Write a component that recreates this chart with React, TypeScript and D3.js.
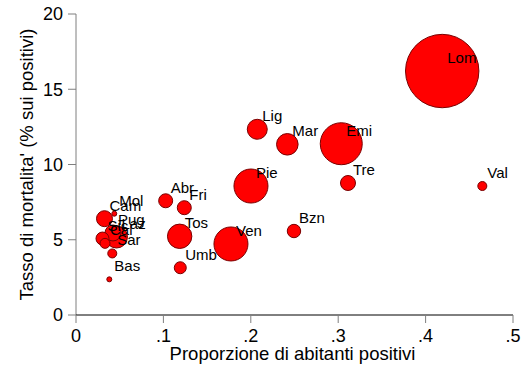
import React from 'react';
import * as d3 from 'd3';

// regioni (etichette come nel grafico)
const regioni = ['Lom', 'Emi', 'Pie', 'Ven', 'Tos', 'Mar', 'Lig', 'Laz', 'Cam', 'Pug', 'Tre', 'Abr', 'Fri', 'Bzn', 'Sic', 'Umb', 'Cal', 'Sar', 'Val', 'Mol', 'Bas'];
// proporzione di abitanti positivi
const proporzione = [0.419, 0.3035, 0.2002, 0.1773, 0.1186, 0.2418, 0.2074, 0.0463, 0.0326, 0.0423, 0.3112, 0.1026, 0.1239, 0.2494, 0.0303, 0.1193, 0.0332, 0.0415, 0.4649, 0.0438, 0.0381];
// tasso di mortalita' (% sui positivi)
const mortalita = [16.21, 11.38, 8.57, 4.72, 5.23, 11.34, 12.34, 5.18, 6.4, 5.45, 8.77, 7.59, 7.13, 5.58, 5.08, 3.14, 4.76, 4.09, 8.57, 6.73, 2.37];
// numero di positivi (migliaia), usato per la dimensione dei cerchi
const positivi = [95, 31.1, 20.4, 20.4, 10.5, 8.2, 7.05, 8.5, 4.5, 4.5, 3.97, 3.46, 3.46, 3.17, 2.98, 2.54, 1.76, 1.43, 1.43, 0.44, 0.44];

const xTicks = [0, 0.1, 0.2, 0.3, 0.4, 0.5];
const xTickLabels = ['0', '.1', '.2', '.3', '.4', '.5'];
const yTicks = [0, 5, 10, 15, 20];

const width = 527;
const height = 384;
const margin = { top: 14, right: 14, bottom: 69, left: 76 };
const font = '"Liberation Sans", Arial, sans-serif';

const App: React.FC = () => {
  const x = d3.scaleLinear().domain([0, 0.5]).range([margin.left, width - margin.right]);
  const y = d3.scaleLinear().domain([0, 20]).range([height - margin.bottom, margin.top]);
  const r = d3.scaleSqrt().domain([0, 95]).range([0, 36.7]);

  const punti = regioni.map((nome, i) => ({
    nome,
    cx: x(proporzione[i]),
    cy: y(mortalita[i]),
    raggio: r(positivi[i]),
  }));

  const y0 = y(0);
  const x0 = x(0);

  return (
    <svg width={width} height={height} style={{ position: 'absolute', left: 0, top: 0, background: '#fff' }} fontFamily={font}>
      <rect width={width} height={height} fill="#fff" />
      {/* asse y */}
      <line x1={x0} x2={x0} y1={y(20)} y2={y0} stroke="#7f7f7f" strokeWidth={1} />
      {yTicks.map(t => (
        <g key={t}>
          <line x1={x0 - 8} x2={x0} y1={y(t)} y2={y(t)} stroke="#7f7f7f" strokeWidth={1} />
          <text x={x0 - 13} y={y(t)} dy="0.36em" textAnchor="end" fontSize={18}>{t}</text>
        </g>
      ))}
      <text
        transform={`translate(33, ${(y(20) + y0) / 2}) rotate(-90)`}
        textAnchor="middle"
        fontSize={18.5}
      >
        Tasso di mortalita' (% sui positivi)
      </text>
      {/* asse x */}
      <line x1={x0} x2={x(0.5)} y1={y0} y2={y0} stroke="#000" strokeWidth={1} />
      {xTicks.map((t, i) => (
        <g key={t}>
          <line x1={x(t)} x2={x(t)} y1={y0} y2={y0 + 8} stroke="#7f7f7f" strokeWidth={1} />
          <text x={x(t)} y={y0 + 27} textAnchor="middle" fontSize={18}>{xTickLabels[i]}</text>
        </g>
      ))}
      <text x={(x0 + x(0.5)) / 2 - 2} y={360} textAnchor="middle" fontSize={18.5}>
        Proporzione di abitanti positivi
      </text>
      {/* cerchi */}
      {punti.map(p => (
        <circle key={p.nome} cx={p.cx} cy={p.cy} r={p.raggio} fill="#ff0000" stroke="#7a0000" strokeWidth={1} />
      ))}
      {punti.map(p => (
        <text key={p.nome + '-l'} x={p.cx + 5} y={p.cy - 8} fontSize={15}>{p.nome}</text>
      ))}
    </svg>
  );
};

export default App;
